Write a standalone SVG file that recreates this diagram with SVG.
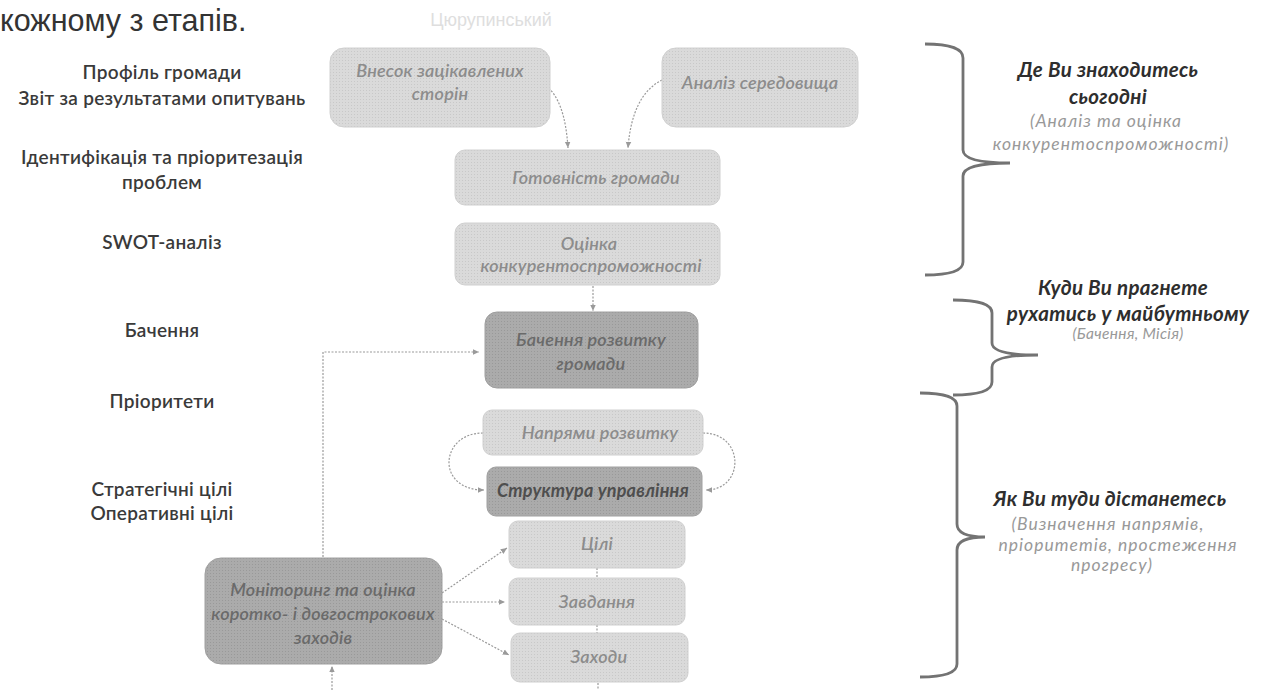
<svg xmlns="http://www.w3.org/2000/svg" width="1269" height="690" viewBox="0 0 1269 690">
<defs>
<marker id="arr" viewBox="0 0 10 10" refX="9" refY="5" markerWidth="7" markerHeight="7" orient="auto-start-reverse" markerUnits="userSpaceOnUse">
<path d="M0,1 L9,5 L0,9 Z" fill="#9a9a9a"/>
</marker>
<pattern id="dots" width="3" height="3" patternUnits="userSpaceOnUse">
<rect width="3" height="3" fill="#dadada"/>
<rect width="1" height="1" fill="#c8c8c8"/>
</pattern>
<pattern id="dotsDark" width="3" height="3" patternUnits="userSpaceOnUse">
<rect width="3" height="3" fill="#ababab"/>
<rect width="1" height="1" fill="#999999"/>
</pattern>
</defs>
<style>
.bg{fill:#ffffff}
.light{fill:url(#dots);stroke:#d0d0d0;stroke-width:1}
.dark{fill:url(#dotsDark);stroke:#a0a0a0;stroke-width:1}
.nt{font-family:Lato,"Open Sans",sans-serif;font-style:italic;font-weight:600;font-size:18px;letter-spacing:0.2px;fill:#8c8c8c;text-anchor:middle}
.ntd{font-family:Lato,"Open Sans",sans-serif;font-style:italic;font-weight:600;font-size:18px;letter-spacing:0.2px;fill:#6a6a6a;text-anchor:middle}
.lbl{font-family:Lato,"Open Sans",sans-serif;font-weight:600;font-size:19px;letter-spacing:0.3px;fill:#3a3a3a;text-anchor:middle}
.hd{font-family:Lato,"Open Sans",sans-serif;font-weight:700;font-style:italic;font-size:20.5px;letter-spacing:0.3px;fill:#2e2e2e;text-anchor:middle}
.sub{font-family:Lato,"Open Sans",sans-serif;font-style:italic;font-size:17.5px;letter-spacing:1px;fill:#999999;text-anchor:middle}
.con{fill:none;stroke:#9a9a9a;stroke-width:1.2;stroke-dasharray:2 1.5}
.brace{fill:none;stroke:#737373;stroke-width:2.8}
</style>
<rect class="bg" x="0" y="0" width="1269" height="690"/>
<text x="0" y="31" font-family="Liberation Sans, Arial, sans-serif" font-size="30.5" fill="#333333">кожному з етапів.</text>
<text x="491" y="26" font-family="Liberation Sans, Arial, sans-serif" font-size="18" fill="#dedede" text-anchor="middle">Цюрупинський</text>

<g id="left-labels">
<text class="lbl" x="162" y="79">Профіль громади</text>
<text class="lbl" x="162" y="105">Звіт за результатами опитувань</text>
<text class="lbl" x="162" y="164">Ідентифікація та пріоритезація</text>
<text class="lbl" x="162" y="189">проблем</text>
<text class="lbl" x="162" y="249">SWOT-аналіз</text>
<text class="lbl" x="162" y="337">Бачення</text>
<text class="lbl" x="162" y="408">Пріоритети</text>
<text class="lbl" x="162" y="496">Стратегічні цілі</text>
<text class="lbl" x="162" y="520">Оперативні цілі</text>
</g>

<g id="connectors">
<path class="con" d="M546,86 Q565,100 568,148" marker-end="url(#arr)"/>
<path class="con" d="M662,80 Q632,95 628,148" marker-end="url(#arr)"/>
<path class="con" d="M593,286 L593,311" marker-end="url(#arr)"/>
<path class="con" d="M483,433 C440,433 435,490 484,490" marker-end="url(#arr)"/>
<path class="con" d="M703,433 C745,433 745,490 706,490" marker-end="url(#arr)"/>
<path class="con" d="M597,568 L597,578"/>
<path class="con" d="M597,625 L597,633"/>
<path class="con" d="M598,683 L598,690"/>
<path class="con" d="M442,593 L507,548" marker-end="url(#arr)"/>
<path class="con" d="M442,602 L505,602" marker-end="url(#arr)"/>
<path class="con" d="M442,619 L509,655" marker-end="url(#arr)"/>
<path class="con" d="M323,557 L323,352 L479,352" marker-end="url(#arr)"/>
<path class="con" d="M332,690 L332,666" marker-end="url(#arr)"/>
</g>

<g id="node-vnesok">
<rect class="light" x="330" y="48" width="220" height="79" rx="14"/>
<text class="nt" x="440" y="77">Внесок зацікавлених</text>
<text class="nt" x="440" y="100">сторін</text>
</g>
<g id="node-analiz">
<rect class="light" x="662" y="48" width="196" height="79" rx="14"/>
<text class="nt" x="760" y="89">Аналіз середовища</text>
</g>
<g id="node-gotovnist">
<rect class="light" x="455" y="150" width="265" height="55" rx="10"/>
<text class="nt" x="596" y="184">Готовність громади</text>
</g>
<g id="node-otsinka">
<rect class="light" x="455" y="223" width="265" height="62" rx="10"/>
<text class="nt" x="589" y="250">Оцінка</text>
<text class="nt" x="591" y="272">конкурентоспроможності</text>
</g>
<g id="node-bachennia">
<rect class="dark" x="485" y="312" width="213" height="76" rx="12"/>
<text class="ntd" x="591" y="346">Бачення розвитку</text>
<text class="ntd" x="591" y="370">громади</text>
</g>
<g id="node-napriamy">
<rect class="light" x="483" y="410" width="220" height="45" rx="9"/>
<text class="nt" x="600" y="439">Напрями розвитку</text>
</g>
<g id="node-struktura">
<rect class="dark" x="487" y="467" width="215" height="49" rx="9"/>
<text class="ntd" x="593" y="497" style="fill:#4e4e4e;font-weight:700">Структура управління</text>
</g>
<g id="node-tsili">
<rect class="light" x="509" y="521" width="176" height="47" rx="9"/>
<text class="nt" x="597" y="550">Цілі</text>
</g>
<g id="node-zavdannia">
<rect class="light" x="509" y="578" width="176" height="47" rx="9"/>
<text class="nt" x="597" y="608">Завдання</text>
</g>
<g id="node-zakhody">
<rect class="light" x="511" y="633" width="177" height="49" rx="9"/>
<text class="nt" x="599" y="663">Заходи</text>
</g>
<g id="node-monitoring">
<rect class="dark" x="205" y="558" width="237" height="106" rx="16"/>
<text class="ntd" x="323" y="596">Моніторинг та оцінка</text>
<text class="ntd" x="323" y="620">коротко- і довгострокових</text>
<text class="ntd" x="323" y="644">заходів</text>
</g>

<g id="brace-1">
<path class="brace" d="M925,44 Q963,44 963,58 L963,150 Q963,163 1010,163 Q963,163 963,176 L963,262 Q963,275 925,275"/>
<text class="hd" x="1108" y="77">Де Ви знаходитесь</text>
<text class="hd" x="1108" y="104">сьогодні</text>
<text class="sub" x="1106" y="127">(Аналіз та оцінка</text>
<text class="sub" x="1111" y="150">конкурентоспроможності)</text>
</g>
<g id="brace-2">
<path class="brace" d="M953,300 Q992,300 992,313 L992,343 Q992,355 1038,355 Q992,355 992,367 L992,382 Q992,395 953,395"/>
<text class="hd" x="1123" y="295">Куди Ви прагнете</text>
<text class="hd" x="1128" y="321">рухатись у майбутньому</text>
<text class="sub" x="1128" y="339" style="font-size:15.5px;letter-spacing:0.3px">(Бачення, Місія)</text>
</g>
<g id="brace-3">
<path class="brace" d="M920,393 Q957,393 957,406 L957,524 Q957,537 985,537 Q957,537 957,550 L957,664 Q957,677 920,677"/>
<text class="hd" x="1110" y="506">Як Ви туди дістанетесь</text>
<text class="sub" x="1108" y="530">(Визначення напрямів,</text>
<text class="sub" x="1118" y="551">пріоритетів, простеження</text>
<text class="sub" x="1112" y="571">прогресу)</text>
</g>
</svg>
